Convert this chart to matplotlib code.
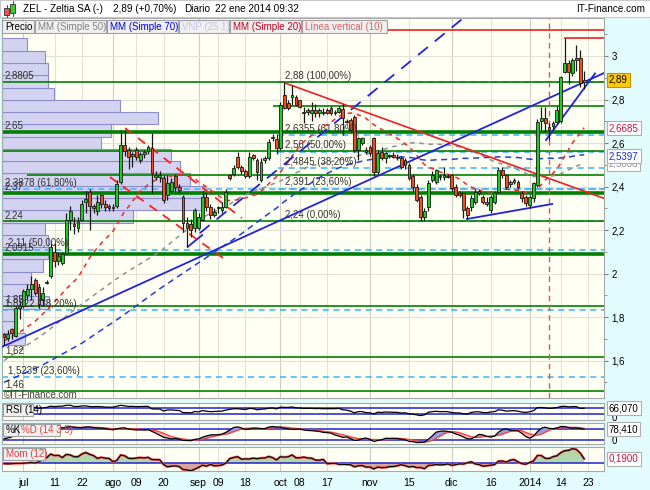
import numpy as np
import pandas as pd
import matplotlib
matplotlib.use("Agg")
import matplotlib.pyplot as plt
from matplotlib.patches import Rectangle
from matplotlib.transforms import blended_transform_factory
from matplotlib.ticker import FuncFormatter, MultipleLocator

plt.rcParams['font.family'] = ['Liberation Sans', 'DejaVu Sans']

# ---------------------------------------------------------------- data
first_day, last_day = '2013-06-24', '2014-01-22'
holidays = ['2013-12-25', '2013-12-26', '2014-01-01']

opens = [
    1.72, 1.705, 1.745, 1.715, 1.84, 1.85, 1.90, 1.93, 1.97, 1.94,
    1.88, 1.955, 1.99, 2.10, 2.06, 2.05, 2.095, 2.245, 2.23, 2.21,
    2.245, 2.33, 2.375, 2.31, 2.29, 2.36, 2.32, 2.31, 2.30, 2.31,
    2.42, 2.59, 2.57, 2.54, 2.57, 2.52, 2.55, 2.565, 2.576, 2.445,
    2.445, 2.438, 2.36, 2.38, 2.45, 2.40, 2.353, 2.208, 2.23, 2.208,
    2.208, 2.246, 2.353, 2.307, 2.27, 2.30, 2.292, 2.307, 2.453, 2.46,
    2.537, 2.49, 2.47, 2.45, 2.545, 2.522, 2.43, 2.52, 2.53, 2.63,
    2.62, 2.576, 2.82, 2.783, 2.813, 2.813, 2.798, 2.745, 2.752, 2.737,
    2.75, 2.74, 2.745, 2.75, 2.76, 2.74, 2.745, 2.755, 2.70, 2.706,
    2.72, 2.568, 2.60, 2.57, 2.583, 2.622, 2.468, 2.56, 2.53, 2.54,
    2.545, 2.537, 2.53, 2.52, 2.50, 2.45, 2.40, 2.35, 2.26, 2.307,
    2.43, 2.422, 2.445, 2.445, 2.45, 2.453, 2.399, 2.37, 2.369, 2.30,
    2.307, 2.33, 2.37, 2.35, 2.33, 2.292, 2.33, 2.376, 2.476, 2.453,
    2.41, 2.42, 2.42, 2.369, 2.353, 2.315, 2.346, 2.407, 2.70, 2.714,
    2.675, 2.68, 2.698, 2.70, 2.928, 2.966, 2.92, 2.99, 2.989, 2.88,
]
highs = [
    1.725, 1.74, 1.75, 1.85, 1.88, 1.93, 1.95, 1.99, 1.98, 1.95,
    1.94, 1.97, 2.14, 2.14, 2.10, 2.10, 2.28, 2.31, 2.26, 2.26,
    2.34, 2.38, 2.39, 2.32, 2.36, 2.365, 2.34, 2.32, 2.32, 2.43,
    2.66, 2.66, 2.58, 2.56, 2.58, 2.56, 2.57, 2.59, 2.646, 2.47,
    2.47, 2.453, 2.453, 2.44, 2.46, 2.41, 2.36, 2.26, 2.25, 2.30,
    2.28, 2.38, 2.37, 2.32, 2.30, 2.31, 2.33, 2.39, 2.46, 2.50,
    2.56, 2.50, 2.48, 2.56, 2.55, 2.53, 2.53, 2.54, 2.62, 2.64,
    2.64, 2.79, 2.88, 2.80, 2.867, 2.82, 2.80, 2.767, 2.76, 2.79,
    2.78, 2.76, 2.76, 2.76, 2.77, 2.75, 2.77, 2.78, 2.71, 2.715,
    2.73, 2.63, 2.63, 2.58, 2.59, 2.63, 2.57, 2.58, 2.56, 2.55,
    2.56, 2.55, 2.54, 2.53, 2.51, 2.46, 2.41, 2.36, 2.30, 2.43,
    2.47, 2.48, 2.46, 2.49, 2.46, 2.46, 2.41, 2.38, 2.37, 2.31,
    2.36, 2.39, 2.39, 2.36, 2.35, 2.36, 2.38, 2.49, 2.49, 2.46,
    2.43, 2.44, 2.43, 2.38, 2.36, 2.36, 2.42, 2.71, 2.767, 2.767,
    2.69, 2.70, 2.77, 2.91, 3.081, 2.98, 2.99, 3.05, 3.03, 2.93,
]
lows = [
    1.67, 1.69, 1.70, 1.71, 1.79, 1.84, 1.88, 1.88, 1.90, 1.84,
    1.85, 1.95, 1.98, 2.03, 2.04, 2.04, 2.09, 2.20, 2.18, 2.19,
    2.24, 2.28, 2.20, 2.28, 2.27, 2.30, 2.29, 2.29, 2.29, 2.30,
    2.41, 2.54, 2.48, 2.49, 2.52, 2.51, 2.53, 2.55, 2.37, 2.43,
    2.42, 2.323, 2.338, 2.37, 2.38, 2.37, 2.19, 2.12, 2.17, 2.19,
    2.20, 2.24, 2.29, 2.25, 2.26, 2.28, 2.28, 2.30, 2.43, 2.45,
    2.48, 2.46, 2.44, 2.44, 2.52, 2.43, 2.42, 2.51, 2.52, 2.61,
    2.55, 2.57, 2.755, 2.75, 2.775, 2.77, 2.76, 2.691, 2.73, 2.70,
    2.72, 2.72, 2.73, 2.735, 2.73, 2.73, 2.74, 2.637, 2.69, 2.65,
    2.56, 2.52, 2.59, 2.55, 2.54, 2.45, 2.46, 2.52, 2.51, 2.53,
    2.53, 2.52, 2.48, 2.48, 2.43, 2.38, 2.33, 2.24, 2.24, 2.29,
    2.42, 2.41, 2.43, 2.43, 2.44, 2.38, 2.35, 2.35, 2.254, 2.25,
    2.29, 2.32, 2.36, 2.32, 2.31, 2.28, 2.32, 2.37, 2.44, 2.39,
    2.40, 2.41, 2.39, 2.33, 2.31, 2.30, 2.33, 2.40, 2.66, 2.652,
    2.614, 2.66, 2.69, 2.69, 2.92, 2.87, 2.91, 2.93, 2.86, 2.85,
]
closes = [
    1.71, 1.72, 1.725, 1.84, 1.85, 1.92, 1.93, 1.95, 1.91, 1.86,
    1.91, 1.96, 2.12, 2.06, 2.08, 2.09, 2.245, 2.29, 2.22, 2.235,
    2.32, 2.345, 2.31, 2.30, 2.33, 2.32, 2.305, 2.30, 2.305, 2.41,
    2.59, 2.565, 2.535, 2.55, 2.535, 2.55, 2.56, 2.58, 2.461, 2.455,
    2.455, 2.338, 2.415, 2.42, 2.40, 2.384, 2.231, 2.231, 2.20, 2.292,
    2.261, 2.353, 2.307, 2.27, 2.284, 2.30, 2.307, 2.376, 2.438, 2.484,
    2.491, 2.47, 2.45, 2.537, 2.53, 2.468, 2.514, 2.53, 2.606, 2.622,
    2.576, 2.775, 2.76, 2.759, 2.821, 2.775, 2.767, 2.74, 2.744, 2.752,
    2.74, 2.75, 2.74, 2.74, 2.74, 2.745, 2.76, 2.714, 2.698, 2.66,
    2.568, 2.622, 2.622, 2.56, 2.553, 2.468, 2.553, 2.53, 2.553, 2.545,
    2.537, 2.53, 2.49, 2.50, 2.438, 2.40, 2.34, 2.26, 2.29, 2.415,
    2.453, 2.476, 2.45, 2.455, 2.445, 2.392, 2.361, 2.36, 2.292, 2.27,
    2.346, 2.376, 2.38, 2.33, 2.32, 2.353, 2.37, 2.476, 2.453, 2.40,
    2.42, 2.43, 2.40, 2.346, 2.323, 2.353, 2.415, 2.698, 2.714, 2.691,
    2.66, 2.69, 2.752, 2.905, 2.966, 2.928, 2.982, 2.98, 2.874, 2.89,
]

tick_dates = ['2013-07-01', '2013-07-11', '2013-07-22', '2013-08-01', '2013-08-09',
              '2013-08-20', '2013-09-02', '2013-09-09', '2013-09-18', '2013-10-01',
              '2013-10-08', '2013-10-17', '2013-11-01', '2013-11-15', '2013-12-02',
              '2013-12-16', '2014-01-02', '2014-01-14', '2014-01-23']
tick_labels = ['jul', '11', '22', 'ago', '09', '20', 'sep', '09', '18', 'oct',
               '08', '17', 'nov', '15', 'dic', '16', '2014', '14', '23']
month_labels = ['jul', 'ago', 'sep', 'oct', 'nov', 'dic', '2014']

# volume-at-price profile (25 bins, bottom -> top), relative volume
vnp_volume = [23, 13, 13, 47, 37, 29, 41, 46, 46, 43, 131, 200, 202,
              188, 178, 169, 99, 109, 156, 118, 52, 46, 46, 43, 25]

# moving-average values before enough history is on the chart (read)
ma20_head_idx, ma20_head = [0, 4, 8, 12, 16], [1.69, 1.73, 1.78, 1.85, 1.93]
ma50_head_idx, ma50_head = [0, 10, 20, 30, 40], [1.60, 1.72, 1.86, 1.99, 2.10]
ma70_head_idx, ma70_head = [0, 10, 20, 30, 40, 50, 60], [1.50, 1.58, 1.68, 1.80, 1.93, 2.05, 2.17]
rsi_head = [58, 60, 61, 69, 70, 73, 73, 74, 70, 65, 68, 71, 78, 75]
k_head = [25, 30, 36, 80, 85, 90, 91, 92, 86, 76, 75, 80, 92, 90, 87]
d_head = [40, 38, 36, 45, 55, 65, 75, 85, 88, 87, 84, 82, 83, 85, 86, 87, 88, 89, 90]
mom_head = [-0.03, -0.04, -0.03, -0.02, -0.02, -0.01, 0.0, 0.02, 0.0, 0.05, 0.2, 0.25]

# horizontal support / resistance lines: (price, thick, first bar)
green_levels = [(2.8805, False, None), (2.77, False, 69), (2.65, True, None),
                (2.565, False, None), (2.453, False, 6), (2.37, True, None),
                (2.24, False, None), (2.0915, True, None), (1.85, False, None),
                (1.617, False, None), (1.46, False, None)]
fib_right = [2.88, 2.6355, 2.56, 2.4845, 2.391, 2.24]
fib_right_labels = ['2,88 (100,00%)', '2,6355 (61,80%)', '2,56 (50,00%)',
                    '2,4845 (38,20%)', '2,391 (23,60%)', '2,24 (0,00%)']
fib_right_start = 70.5
fib_left = [2.3878, 2.11, 1.8322, 1.5239]
left_labels = [('2,8805', 2.8805, 3), ('2,65', 2.65, 3), ('2,37', 2.37, 3),
               ('2,3878 (61,80%)', 2.3878, 3), ('2,24', 2.24, 3),
               ('2,11 (50,00%)', 2.11, 6), ('2,0915', 2.0915, 3),
               ('1,85', 1.85, 3), ('1,8322 (38,20%)', 1.8322, 3),
               ('1,62', 1.617, 3), ('1,5239 (23,60%)', 1.5239, 6), ('1,46', 1.46, 3)]

# trend lines as (bar, price) pairs
blue_lines = [[(-0.5, 1.663), (154.1, 2.922)],
              [(139.2, 2.614), (151.8, 2.92)],
              [(118.9, 2.251), (140.8, 2.32)],
              [(47.2, 2.123), (50.9, 2.177)]]
blue_dash_lines = [[(50.3, 2.186), (118.0, 3.175)]]
red_lines = [[(72.2, 2.876), (154.1, 2.346)]]
red_dash_lines = [[(31.1, 2.669), (61.1, 2.255)], [(27.2, 2.444), (56.3, 2.071)]]
high_line = (144, 3.081)
top_red_level = 3.12
vertical_bar = 140

last_price, ma20_last, ma70_last, ma50_last = 2.89, 2.6685, 2.5397, 2.5038
rsi_last, k_last, mom_last = 66.070, 78.410, 0.1900

# ---------------------------------------------------------------- derived
dates = pd.bdate_range(first_day, last_day)
dates = dates[~dates.isin(pd.to_datetime(holidays))]
n = len(dates)
tick_pos = [int(dates.searchsorted(pd.Timestamp(d))) for d in tick_dates]

c = pd.Series(closes, dtype=float)
h = pd.Series(highs, dtype=float)
l = pd.Series(lows, dtype=float)

def with_head(series, idx, vals, start):
    return list(idx) + list(range(start, n)), list(vals) + list(series[start:])

ma20x, ma20y = with_head(c.rolling(20).mean().values, ma20_head_idx, ma20_head, 19)
ma50x, ma50y = with_head(c.rolling(50).mean().values, ma50_head_idx, ma50_head, 49)
ma70x, ma70y = with_head(c.rolling(70).mean().values, ma70_head_idx, ma70_head, 69)

# RSI (Wilder 14)
diff = np.diff(c.values)
upm = np.where(diff > 0, diff, 0.0)
dnm = np.where(diff < 0, -diff, 0.0)
rsi = np.full(n, np.nan)
au, ad = upm[:14].mean(), dnm[:14].mean()
rsi[14] = 100 - 100 / (1 + au / ad)
for i in range(15, n):
    au = (au * 13 + upm[i - 1]) / 14
    ad = (ad * 13 + dnm[i - 1]) / 14
    rsi[i] = 100 - 100 / (1 + au / ad)
rsi[:14] = rsi_head

raw = 100 * (c - l.rolling(14).min()) / (h.rolling(14).max() - l.rolling(14).min())
kline = raw.rolling(3).mean().values
kline[:15] = k_head
dline = pd.Series(kline).rolling(5).mean().values
dline[:19] = d_head

mom = (c - c.shift(12)).values
mom[:12] = mom_head

# ---------------------------------------------------------------- figure
W, H = 650, 490
fig = plt.figure(figsize=(6.5, 4.9), dpi=100)
fig.patch.set_facecolor('#e2fbfc')

def fx(px):
    return px / W

def fy(py):
    return 1 - py / H

def axbox(x0, y0, x1, y1):
    return [fx(x0), fy(y1), fx(x1) - fx(x0), fy(y0) - fy(y1)]

BG = '#fffff3'
GRID = '#e2e2d8'
GRID_M = '#cdcdc4'
SPINE = '#a8a8a8'

ax = fig.add_axes(axbox(2, 18, 604, 398))
ax_rsi = fig.add_axes(axbox(2, 403, 604, 420))
ax_sto = fig.add_axes(axbox(2, 423, 604, 444))
ax_mom = fig.add_axes(axbox(2, 447, 604, 471))
XL = (-0.5, 154.1)

for a in (ax, ax_rsi, ax_sto, ax_mom):
    a.set_facecolor(BG)
    a.set_xlim(*XL)
    for s in a.spines.values():
        s.set_color(SPINE)
        s.set_linewidth(0.8)
    for p, lab in zip(tick_pos, tick_labels):
        a.axvline(p, color=GRID_M if lab in month_labels else GRID, lw=0.8, zorder=0.5)
    a.tick_params(axis='x', length=0)
    if a is not ax_mom:
        a.set_xticks([])

# ---- main panel
ax.set_ylim(1.428, 3.175)
for v in np.arange(1.6, 3.11, 0.2):
    ax.axhline(v, color=GRID, lw=0.8, zorder=0.5)

ax.yaxis.tick_right()
ax.yaxis.set_major_locator(MultipleLocator(0.2))
ax.yaxis.set_minor_locator(MultipleLocator(0.1))

def comma(v, pos=None):
    s = ('%.1f' % v).replace('.', ',')
    return s[:-2] if s.endswith(',0') else s

ax.yaxis.set_major_formatter(FuncFormatter(comma))
ax.tick_params(axis='y', which='major', length=3, pad=2.5, labelsize=7, colors='#000000')
ax.tick_params(axis='y', which='minor', length=1.8, color='#808080')
ax.tick_params(axis='y', which='both', color='#808080')

# volume at price
edges = np.linspace(min(lows), max(highs), len(vnp_volume) + 1)
binh = edges[1] - edges[0]
vol = np.array(vnp_volume, dtype=float)
span = XL[1] - XL[0]
ax.barh(edges[:-1] + binh / 2, vol / vol.max() * span * 0.335, height=binh, left=XL[0],
        color='#d3d3f1', edgecolor='#8d8dc9', lw=0.8, zorder=1)

# fib dashed levels
CYAN = '#3cb4f4'
for v in fib_left:
    ax.axhline(v, color=CYAN, lw=1.1, ls=(0, (4, 3)), zorder=2)
for v in fib_right:
    ax.plot([fib_right_start, XL[1]], [v, v], color=CYAN, lw=1.1, ls=(0, (4, 3)), zorder=2)

# green levels
for v, thick, start in green_levels:
    x0 = XL[0] if start is None else start
    ax.plot([x0, XL[1]], [v, v], color='#008000', lw=2.6 if thick else 1.2, zorder=2.2,
            solid_capstyle='butt')

# moving averages
ax.plot(ma50x, ma50y, color='#909090', lw=1.1, ls=(0, (3, 3)), zorder=3)
ax.plot(ma70x, ma70y, color='#1f3fe0', lw=1.1, ls=(0, (4, 3)), zorder=3)
ax.plot(ma20x, ma20y, color='#ee2a2a', lw=1.1, ls=(0, (3, 3)), zorder=3)

# trend lines
for ln in blue_lines:
    ax.plot(*zip(*ln), color='#2222dd', lw=1.3, zorder=3.2)
for ln in blue_dash_lines:
    ax.plot(*zip(*ln), color='#2222dd', lw=1.3, ls=(0, (7, 5)), zorder=3.2)
for ln in red_lines:
    ax.plot(*zip(*ln), color='#ee2020', lw=1.2, zorder=3.2)
for ln in red_dash_lines:
    ax.plot(*zip(*ln), color='#ff2020', lw=1.3, ls=(0, (5, 4)), zorder=3.2)
ax.plot([high_line[0], XL[1]], [high_line[1]] * 2, color='#ee2020', lw=1.2, zorder=3.2)
ax.axhline(top_red_level, color='#ee2020', lw=1.2, zorder=3.2)
ax.axvline(vertical_bar, color='#e05555', lw=1.0, ls=(0, (4, 3)), zorder=3.3)

# candles
bw = 0.72
for i in range(n):
    o, hi, lo, cl = opens[i], highs[i], lows[i], closes[i]
    ax.plot([i, i], [lo, hi], color='#1a1a1a', lw=0.9, zorder=4, solid_capstyle='butt')
    col = '#1fcc1f' if cl >= o else '#f0501e'
    b = min(o, cl)
    hgt = max(abs(cl - o), 0.005)
    ax.add_patch(Rectangle((i - bw / 2, b), bw, hgt, facecolor=col, edgecolor='#1a1a1a',
                           lw=0.6, zorder=5))

# labels inside main panel
TXT = '#333333'
xpx = span / 602.0
for lab, v in zip(fib_right_labels, fib_right):
    ax.text(72.2, v + 0.006, lab, fontsize=7, color=TXT, ha='left', va='bottom', zorder=6)
for lab, v, px in left_labels:
    ax.text(XL[0] + px * xpx, v + 0.006, lab, fontsize=7, color=TXT, ha='left', va='bottom', zorder=6)
ax.text(XL[0] + 2 * xpx, 1.443, '\u00a9IT-Finance.com', fontsize=7, color='#444444',
        ha='left', va='center', zorder=6)

trm = blended_transform_factory(ax.transAxes, ax.transData)

def rlabel(a, v, txt, fc, tc, ec, tr):
    a.text(1.008, v, txt, transform=tr, ha='left', va='center', fontsize=7, color=tc,
           bbox=dict(boxstyle='square,pad=0.22', fc=fc, ec=ec, lw=0.8), clip_on=False, zorder=20)

rlabel(ax, ma50_last, comma4 if False else '%.4f' % ma50_last, 'white', '#909090', '#b0b0b0', trm) if False else None
rlabel(ax, ma50_last, ('%.4f' % ma50_last).replace('.', ','), 'white', '#909090', '#b0b0b0', trm)
rlabel(ax, ma70_last, ('%.4f' % ma70_last).replace('.', ','), 'white', '#1030d0', '#b0b0b0', trm)
rlabel(ax, ma20_last, ('%.4f' % ma20_last).replace('.', ','), 'white', '#d01040', '#b0b0b0', trm)
rlabel(ax, last_price, ('%.2f' % last_price).replace('.', ','), '#ffcc00', 'black', '#c89000', trm)

# ---- RSI
ax_rsi.set_ylim(-2.6, 96.3)
ax_rsi.set_yticks([])
for v in (70, 30):
    ax_rsi.axhline(v, color='#2020d0', lw=1.1, zorder=2)
ax_rsi.plot(range(n), rsi, color='black', lw=0.9, zorder=3)
rlabel(ax_rsi, rsi_last, ('%.3f' % rsi_last).replace('.', ','), 'white', 'black', '#b0b0b0',
       blended_transform_factory(ax_rsi.transAxes, ax_rsi.transData))
ax_rsi.text(1.012, 0.12, '0', transform=ax_rsi.transAxes, fontsize=7, va='center', ha='left')

# ---- Stochastic
ax_sto.set_ylim(-3, 113)
ax_sto.set_yticks([])
for v in (80, 20):
    ax_sto.axhline(v, color='#2020d0', lw=1.1, zorder=2)
xs = np.arange(n)
ax_sto.fill_between(xs, kline, dline, where=kline >= dline, interpolate=True,
                    color='#9c9cdc', lw=0, zorder=2.5)
ax_sto.fill_between(xs, kline, dline, where=kline < dline, interpolate=True,
                    color='#f2b4b4', lw=0, zorder=2.5)
ax_sto.plot(xs, dline, color='#ee4444', lw=1.0, zorder=3)
ax_sto.plot(xs, kline, color='black', lw=0.9, zorder=3.1)
rlabel(ax_sto, k_last, ('%.3f' % k_last).replace('.', ','), 'white', 'black', '#b0b0b0',
       blended_transform_factory(ax_sto.transAxes, ax_sto.transData))
ax_sto.text(1.012, 0.12, '0', transform=ax_sto.transAxes, fontsize=7, va='center', ha='left')

# ---- Momentum
ax_mom.set_ylim(-0.369, 0.737)
ax_mom.set_yticks([])
ax_mom.fill_between(xs, mom, 0, where=mom >= 0, interpolate=True, color='#b2d8a8', lw=0, zorder=2)
ax_mom.fill_between(xs, mom, 0, where=mom < 0, interpolate=True, color='#d2a8a0', lw=0, zorder=2)
ax_mom.axhline(0, color='#2020d0', lw=1.1, zorder=2.5)
ax_mom.plot(xs, mom, color='#f06060', lw=1.8, zorder=3)
ax_mom.plot(xs, mom, color='black', lw=0.8, zorder=3.1)
rlabel(ax_mom, mom_last, ('%.4f' % mom_last).replace('.', ','), 'white', '#d01040', '#b0b0b0',
       blended_transform_factory(ax_mom.transAxes, ax_mom.transData))
ax_mom.set_xticks(tick_pos)
ax_mom.set_xticklabels(tick_labels, fontsize=7.5)
ax_mom.tick_params(axis='x', length=0, pad=5)

# ---------------------------------------------------------------- chrome
def fig_rect(x0, y0, x1, y1, fc, ec, lw=0.8, z=5):
    fig.add_artist(Rectangle((fx(x0), fy(y1)), fx(x1) - fx(x0), fy(y0) - fy(y1),
                             transform=fig.transFigure, facecolor=fc, edgecolor=ec, lw=lw, zorder=z))

def fig_box_label(x0, y0, x1, y1, txt, color):
    fig_rect(x0, y0, x1, y1, '#f0f0f0', '#a0a0a0')
    fig.text(fx(x0 + 3), fy((y0 + y1) / 2), txt, fontsize=7, color=color, ha='left',
             va='center', zorder=6)

# title bar
fig_rect(0, 0, 650, 17, 'white', '#c8c8c8', z=4)
fig_rect(4, 8, 9, 15, '#f05050', '#303030', lw=0.6)
fig.add_artist(plt.Line2D([fx(6.5), fx(6.5)], [fy(5), fy(17)], color='#303030', lw=0.6,
                          transform=fig.transFigure, zorder=4.9))
fig_rect(10, 4, 15, 13, '#30d030', '#303030', lw=0.6)
fig.add_artist(plt.Line2D([fx(12.5), fx(12.5)], [fy(1), fy(16)], color='#303030', lw=0.6,
                          transform=fig.transFigure, zorder=4.9))
ty = fy(9.5)
fig.text(fx(23), ty, 'ZEL - Zeltia SA (-)', fontsize=7.2, ha='left', va='center', zorder=6)
fig.text(fx(113), ty, '2,89 (+0,70%)', fontsize=7.2, ha='left', va='center', zorder=6)
fig.text(fx(184), ty, 'Diario', fontsize=7.2, ha='left', va='center', zorder=6)
fig.text(fx(215), ty, '22 ene 2014 09:32', fontsize=7.2, ha='left', va='center', zorder=6)
fig.text(fx(645), ty, 'IT-Finance.com', fontsize=7.2, ha='right', va='center', zorder=6)

# legend boxes
legend = [('Precio', 2, 34, '#000000'), ('MM (Simple 50)', 35, 106, '#808080'),
          ('MM (Simple 70)', 107, 178, '#0000ee'), ('VNP (25 1)', 179, 229, '#c4c4ec'),
          ('MM (Simple 20)', 230, 301, '#c00020'), ('L\u00ednea vertical (10)', 302, 387, '#e06060')]
for txt, x0, x1, col in legend:
    fig_box_label(x0, 20, x1, 33, txt, col)

# indicator name boxes
fig_box_label(3, 404, 33, 416, 'RSI (14)', '#000000')
fig_box_label(3, 424, 18, 436, '%K', '#000000')
fig_box_label(18, 424, 60, 436, '%D (14 3 5)', '#e04040')
fig_box_label(3, 448, 45, 460, 'Mom (12)', '#e04040')

fig.savefig('out.png', dpi=100, facecolor=fig.get_facecolor())
